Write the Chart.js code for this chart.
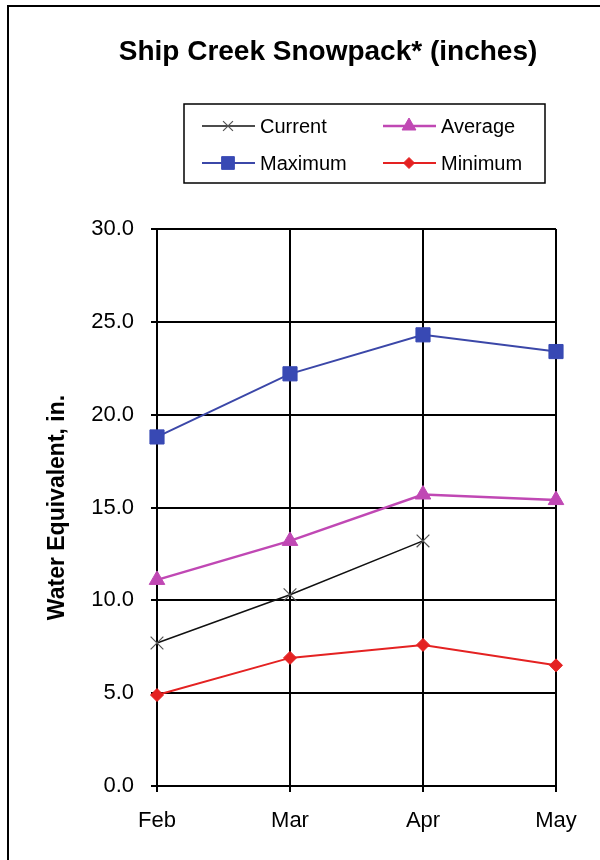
<!DOCTYPE html>
<html>
<head>
<meta charset="utf-8">
<script src="https://cdn.jsdelivr.net/npm/chart.js@4/dist/chart.umd.min.js"></script>
<style>
  html, body { margin: 0; padding: 0; background: #fff; }
  #wrap { position: relative; width: 600px; height: 860px; }
  #frame { position: absolute; left: 7px; top: 5px; right: 0; bottom: 0;
           border-left: 2px solid #000; border-top: 2px solid #000; pointer-events: none; }
  canvas { display: block; }
</style>
</head>
<body>
<div id="wrap">
  <canvas id="c" width="600" height="860"></canvas>
  <div id="frame"></div>
</div>
<script>
// Snowpack water equivalent (inches), by month
const months = ['Feb', 'Mar', 'Apr', 'May'];
const currentVals = [7.7, 10.3, 13.2, null];
const averageVals = [11.1, 13.2, 15.7, 15.4];
const maximumVals = [18.8, 22.2, 24.3, 23.4];
const minimumVals = [4.9, 6.9, 7.6, 6.5];
const yMin = 0;
const yMax = 30;
const yStep = 5;
const chartTitle = 'Ship Creek Snowpack* (inches)';
const yAxisTitle = 'Water Equivalent, in.';
const legendOrder = ['Current', 'Average', 'Maximum', 'Minimum'];

const FONT = '"Liberation Sans", Arial, Helvetica, sans-serif';

// Title and boxed two-column legend drawn over the canvas
const headerPlugin = {
  id: 'header',
  afterDraw(chart) {
    const ctx = chart.ctx;
    ctx.save();
    ctx.fillStyle = '#000';
    ctx.font = 'bold 28px ' + FONT;
    ctx.textAlign = 'center';
    ctx.textBaseline = 'alphabetic';
    ctx.fillText(chartTitle, 328, 60);

    ctx.lineWidth = 1.5;
    ctx.strokeStyle = '#000';
    ctx.strokeRect(184, 104, 361, 79);

    const slots = [[202, 126], [383, 126], [202, 163], [383, 163]];
    legendOrder.forEach((label, i) => {
      const ds = chart.data.datasets.find(d => d.label === label);
      const [x, y] = slots[i];
      ctx.save();
      ctx.strokeStyle = ds.borderColor;
      ctx.lineWidth = ds.borderWidth;
      ctx.beginPath();
      ctx.moveTo(x, y);
      ctx.lineTo(x + 53, y);
      ctx.stroke();
      ctx.fillStyle = ds.pointBackgroundColor;
      ctx.strokeStyle = ds.pointBorderColor;
      ctx.lineWidth = ds.pointBorderWidth;
      Chart.helpers.drawPoint(ctx, {
        pointStyle: ds.pointStyle,
        radius: ds.legendRadius,
        rotation: 0,
        borderWidth: ds.pointBorderWidth
      }, x + 26, y);
      ctx.restore();
      ctx.fillStyle = '#000';
      ctx.font = '20px ' + FONT;
      ctx.textAlign = 'left';
      ctx.textBaseline = 'middle';
      ctx.fillText(label, x + 58, y + 1);
    });
    ctx.restore();
  }
};

new Chart(document.getElementById('c'), {
  type: 'line',
  data: {
    labels: months,
    datasets: [
      {
        label: 'Maximum', data: maximumVals,
        borderColor: '#3B47A8', borderWidth: 2,
        pointStyle: 'rect', pointRadius: 10, legendRadius: 9,
        pointBackgroundColor: '#3849B4', pointBorderColor: '#3849B4', pointBorderWidth: 1
      },
      {
        label: 'Average', data: averageVals,
        borderColor: '#C048B4', borderWidth: 2.5,
        pointStyle: 'triangle', pointRadius: 9, legendRadius: 8,
        pointBackgroundColor: '#C048B4', pointBorderColor: '#C048B4', pointBorderWidth: 1
      },
      {
        label: 'Current', data: currentVals,
        borderColor: '#111111', borderWidth: 1.5,
        pointStyle: 'crossRot', pointRadius: 9, legendRadius: 7,
        pointBackgroundColor: '#555555', pointBorderColor: '#555555', pointBorderWidth: 1.2
      },
      {
        label: 'Minimum', data: minimumVals,
        borderColor: '#E42222', borderWidth: 2,
        pointStyle: 'rectRot', pointRadius: 6.5, legendRadius: 5.5,
        pointBackgroundColor: '#E42222', pointBorderColor: '#E42222', pointBorderWidth: 1
      }
    ]
  },
  options: {
    responsive: false,
    animation: false,
    devicePixelRatio: 1,
    spanGaps: false,
    layout: { padding: { left: 36, right: 44, top: 229, bottom: 14 } },
    plugins: {
      legend: { display: false },
      title: { display: false },
      tooltip: { enabled: false }
    },
    elements: { line: { tension: 0 } },
    scales: {
      x: {
        type: 'category',
        offset: false,
        grid: { color: '#000', lineWidth: 2, tickLength: 6, drawTicks: true },
        border: { color: '#000', width: 2 },
        ticks: { color: '#000', font: { family: FONT, size: 22 }, padding: 16, maxRotation: 0 },
        afterFit(scale) { scale.height = 60; }
      },
      y: {
        min: yMin, max: yMax,
        grid: { color: '#000', lineWidth: 2, tickLength: 6, drawTicks: true },
        border: { color: '#000', width: 2 },
        ticks: {
          stepSize: yStep, color: '#000', padding: 17,
          font: { family: FONT, size: 22 },
          callback: v => Number(v).toFixed(1)
        },
        title: {
          display: true, text: yAxisTitle, color: '#000',
          font: { family: FONT, size: 23, weight: 'bold' },
          padding: { top: 8, bottom: 0 }
        },
        afterFit(scale) { scale.width = 121; }
      }
    }
  },
  plugins: [headerPlugin]
});
</script>
</body>
</html>
